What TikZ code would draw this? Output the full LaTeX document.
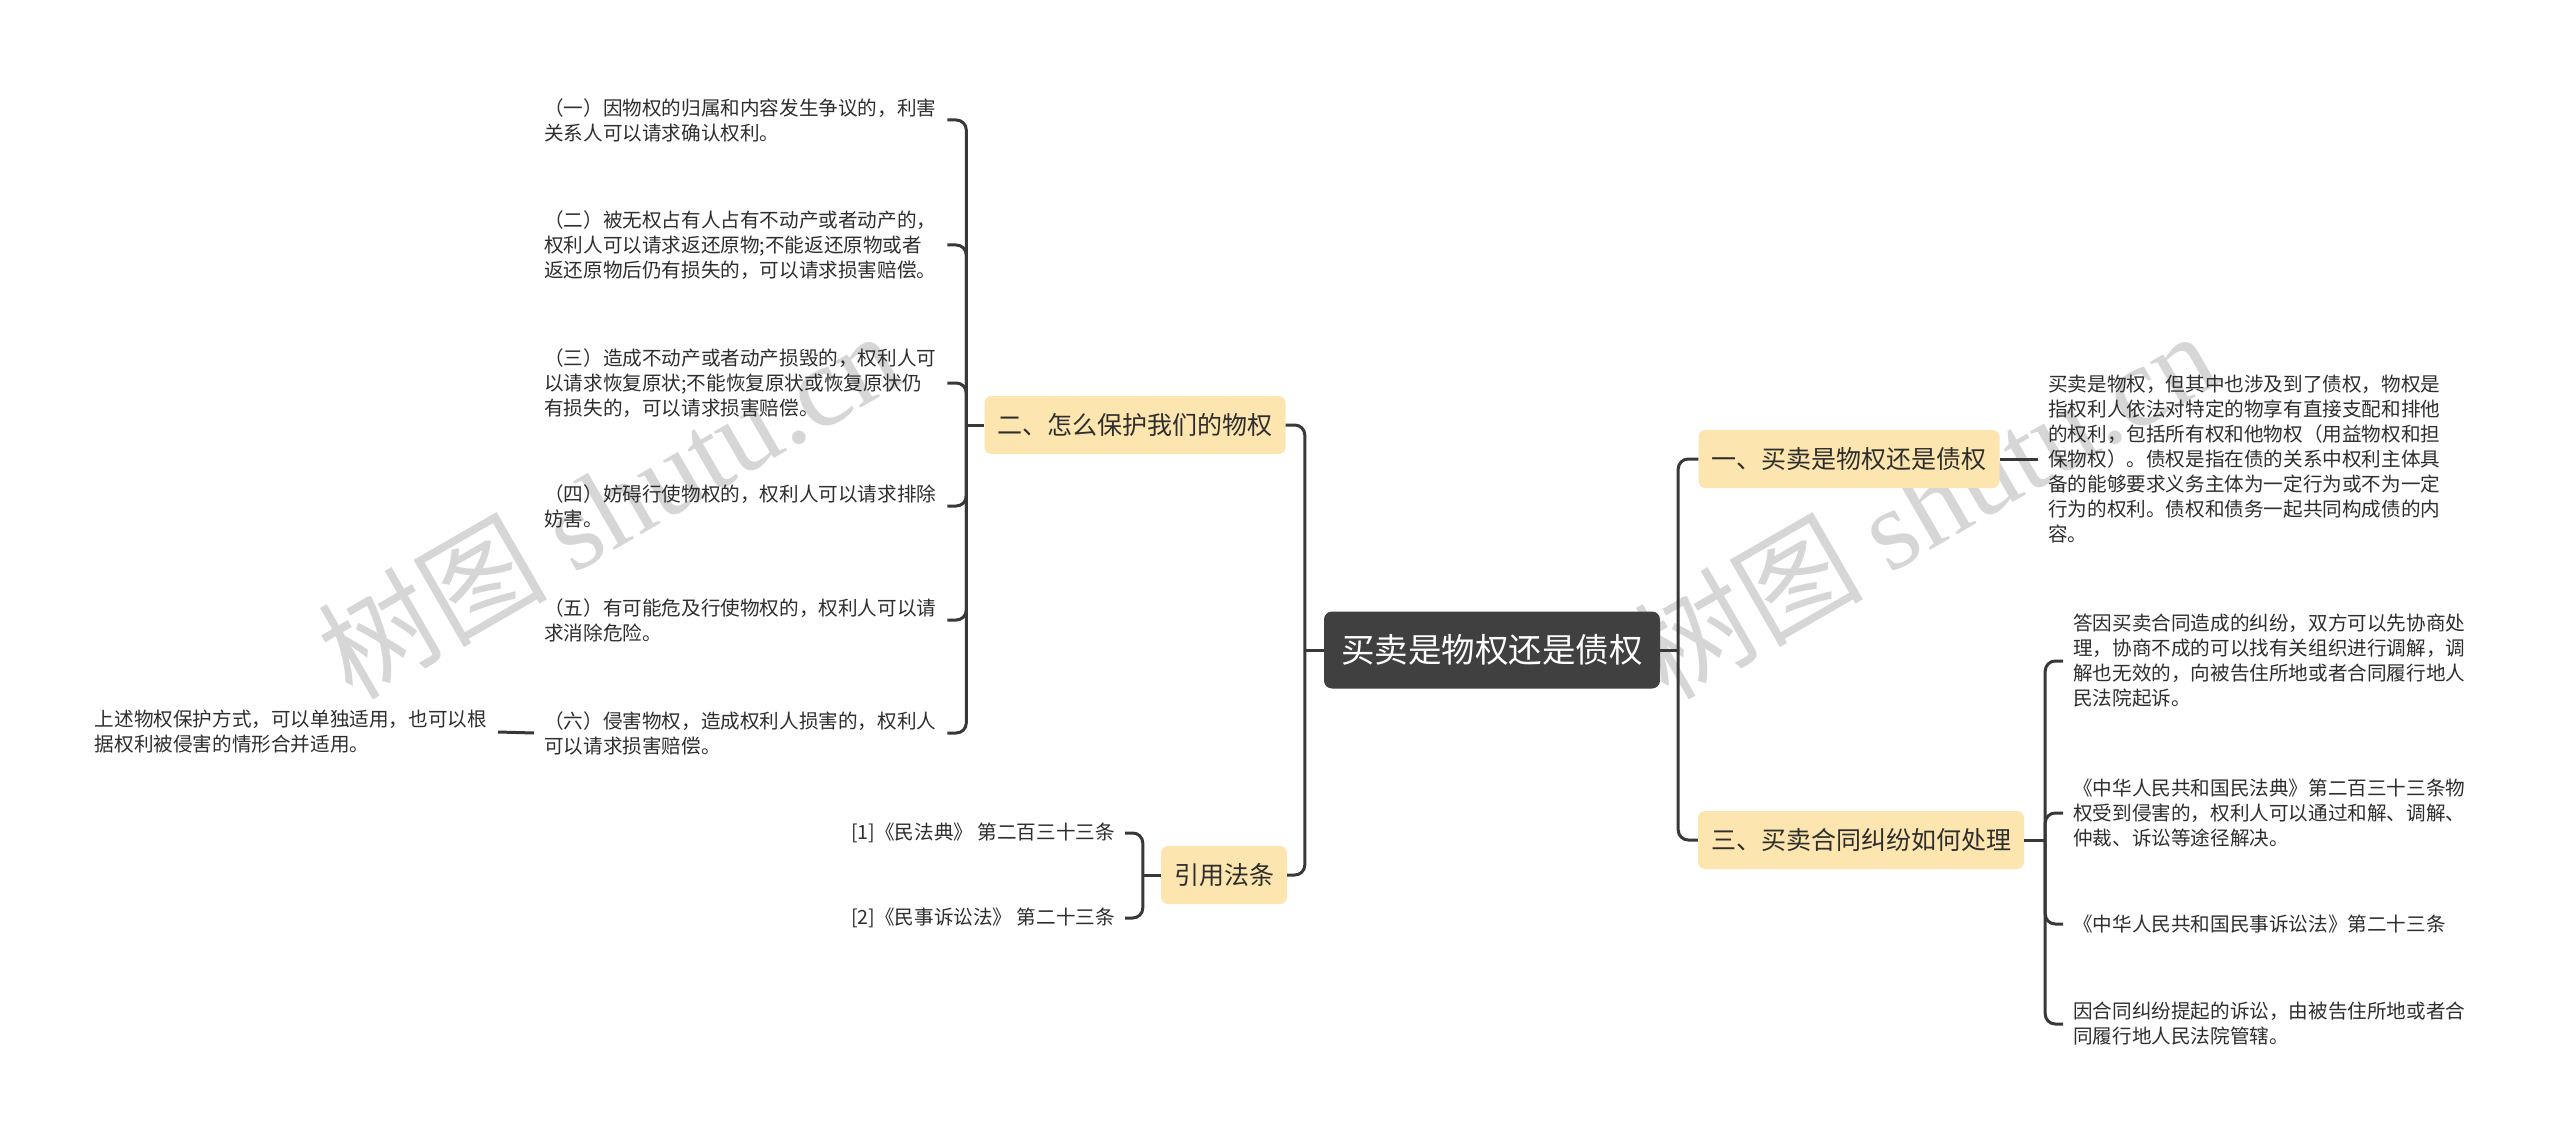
\documentclass[tikz,border=0pt]{standalone}
\usepackage{fontspec}
\setmainfont{Noto Sans CJK SC}
\newfontfamily\wmserif{Liberation Serif}
\definecolor{rootgray}{HTML}{404040}
\definecolor{branchyellow}{HTML}{FCE5AE}
\definecolor{linegray}{HTML}{383838}
\definecolor{inkgray}{HTML}{2E2E2E}
\tikzset{topic/.style = {fill=rootgray, text=white, rounded corners=8pt,
    minimum width=336pt, minimum height=77pt, font=\fontsize{33.5}{40}\selectfont}}
\tikzset{branch/.style = {fill=branchyellow, text=inkgray, rounded corners=7pt,
    inner xsep=13pt, minimum height=58pt, font=\fontsize{25}{30}\selectfont}}
\tikzset{leaf/.style = {text=inkgray, align=left, inner xsep=10pt, inner ysep=0pt,
    font=\fontsize{19.6}{25}\selectfont}}
\tikzset{para/.style = {leaf, text width=393pt}}
\tikzset{link/.style = {draw=linegray, line width=3pt, rounded corners=10pt}}
\tikzset{wmark/.style = {text=black!16, rotate=30, anchor=base west, inner sep=0pt,
    font=\fontsize{115}{115}\selectfont}}

\begin{document}
\begin{tikzpicture}[x=1pt, y=-1pt]
        \useasboundingbox (0,0) rectangle (2560,1142);
        \fill[white] (0,0) rectangle (2560,1142);
        % watermarks
        \node[wmark] (wm1) at (352,702) {树图 {\wmserif shutu.cn}};
        \node[wmark] (wm2) at (1668,702) {树图 {\wmserif shutu.cn}};
        % centre and main branches
        \node[topic] (root) at (1492,650) {买卖是物权还是债权};
        \node[branch] (b1) at (1849,459) {一、买卖是物权还是债权};
        \node[branch] (b2) at (1135,425) {二、怎么保护我们的物权};
        \node[branch] (b3) at (1861,840) {三、买卖合同纠纷如何处理};
        \node[branch] (b4) at (1224,875) {引用法条};
        % right side texts
        \node[para, anchor=west] (n1) at (2038,459) {买卖是物权，但其中也涉及到了债权，物权是\\
          指权利人依法对特定的物享有直接支配和排他\\
          的权利，包括所有权和他物权（用益物权和担\\
          保物权）。债权是指在债的关系中权利主体具\\
          备的能够要求义务主体为一定行为或不为一定\\
          行为的权利。债权和债务一起共同构成债的内\\
          容。};
        \node[para, anchor=west] (c31) at (2063,661) {答因买卖合同造成的纠纷，双方可以先协商处\\
          理，协商不成的可以找有关组织进行调解，调\\
          解也无效的，向被告住所地或者合同履行地人\\
          民法院起诉。};
        \node[para, anchor=west] (c32) at (2063,813) {《中华人民共和国民法典》第二百三十三条物\\
          权受到侵害的，权利人可以通过和解、调解、\\
          仲裁、诉讼等途径解决。};
        \node[para, anchor=west] (c33) at (2063,924) {《中华人民共和国民事诉讼法》第二十三条};
        \node[para, anchor=west] (c34) at (2063,1024) {因合同纠纷提起的诉讼，由被告住所地或者合\\
          同履行地人民法院管辖。};
        % left side texts
        \node[para, anchor=west] (c21) at (534,120) {（一）因物权的归属和内容发生争议的，利害\\
          关系人可以请求确认权利。};
        \node[para, anchor=west] (c22) at (534,245) {（二）被无权占有人占有不动产或者动产的，\\
          权利人可以请求返还原物;不能返还原物或者\\
          返还原物后仍有损失的，可以请求损害赔偿。};
        \node[para, anchor=west] (c23) at (534,383) {（三）造成不动产或者动产损毁的，权利人可\\
          以请求恢复原状;不能恢复原状或恢复原状仍\\
          有损失的，可以请求损害赔偿。};
        \node[para, anchor=west] (c24) at (534,506) {（四）妨碍行使物权的，权利人可以请求排除\\
          妨害。};
        \node[para, anchor=west] (c25) at (534,620) {（五）有可能危及行使物权的，权利人可以请\\
          求消除危险。};
        \node[para, anchor=west] (c26) at (534,733) {（六）侵害物权，造成权利人损害的，权利人\\
          可以请求损害赔偿。};
        \node[para, anchor=east] (s1) at (498,732) {上述物权保护方式，可以单独适用，也可以根\\
          据权利被侵害的情形合并适用。};
        \node[leaf, anchor=east] (f1) at (1125,833) {[1]《民法典》 第二百三十三条};
        \node[leaf, anchor=east] (f2) at (1125,918) {[2]《民事诉讼法》 第二十三条};
        % connectors
        \coordinate (lj) at ([xshift=-19pt]root.west);
        \coordinate (rj) at ([xshift=18pt]root.east);
        \draw[link] (root.west) -- (lj);
        \draw[link] (root.east) -- (rj);
        \draw[link] (lj) |- (b2.east);
        \draw[link] (lj) |- (b4.east);
        \draw[link] (rj) |- (b1.west);
        \draw[link] (rj) |- (b3.west);
        \draw[link] (b1.east) -- (n1.west);
        \coordinate (k2) at ([xshift=-18pt]b2.west);
        \draw[link] (b2.west) -- (k2);
        \foreach \c in {c21,c22,c23,c24,c25,c26}
          \draw[link] (k2) |- (\c.east);
        \draw[link] (c26.west) -- (s1.east);
        \coordinate (k3) at ([xshift=21pt]b3.east);
        \draw[link] (b3.east) -- (k3);
        \foreach \c in {c31,c32,c33,c34}
          \draw[link] (k3) |- (\c.west);
        \coordinate (k4) at ([xshift=-18pt]b4.west);
        \draw[link] (b4.west) -- (k4);
        \foreach \c in {f1,f2}
          \draw[link] (k4) |- (\c.east);
      \end{tikzpicture}
\end{document}
